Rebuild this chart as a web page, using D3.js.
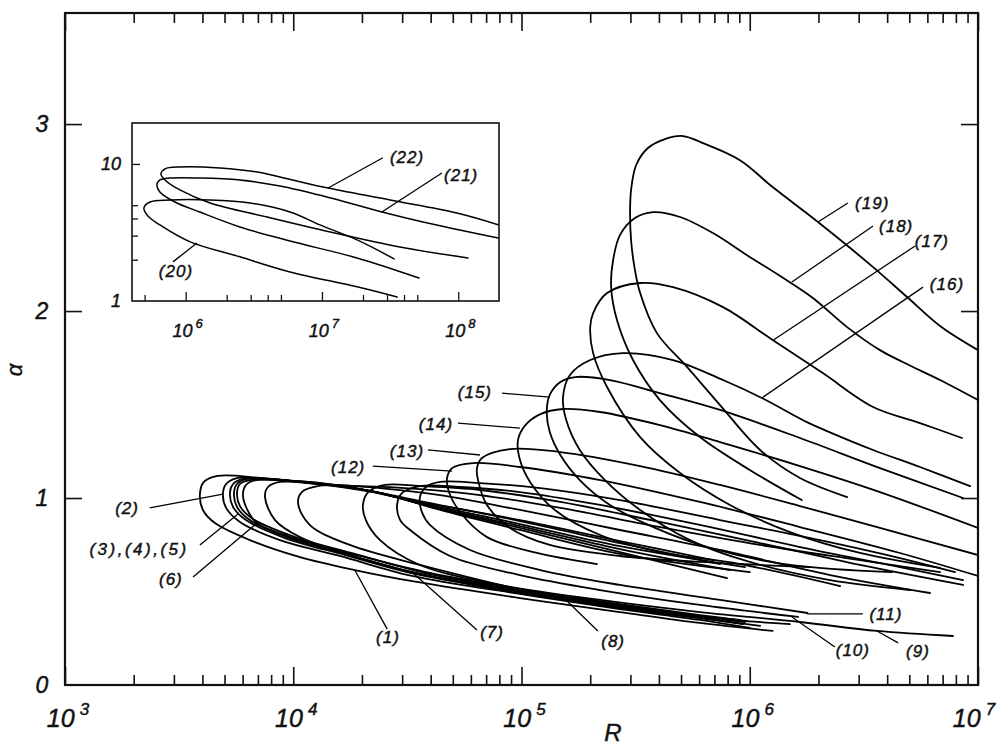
<!DOCTYPE html>
<html>
<head>
<meta charset="utf-8">
<script src="https://cdn.jsdelivr.net/npm/d3@7"></script>
<style>
  body { margin: 0; background: #fff; }
  svg { display: block; }
  text { font-family: "Liberation Sans", Arial, sans-serif; font-style: italic; fill: #111;
         stroke: #111; stroke-width: 0.45px; }
</style>
</head>
<body>
<svg id="chart" width="1001" height="747"></svg>
<script>
// Neutral curves: each is [R, alpha] traced from the upper-branch end, round the nose, to the lower-branch end.
const curve1 = [[6.90e5,0.668],[2.70e5,0.770],[9.85e4,0.882],[3.59e4,0.979],[1.96e4,1.043],[1.07e4,1.086],[7.15e3,1.107],[4.68e3,1.118],[4.06e3,1.086],[3.90e3,1.021],[4.02e3,0.936],[4.54e3,0.866],[6.46e3,0.775],[1.07e4,0.684],[1.86e4,0.615],[3.48e4,0.551],[9.85e4,0.465],[2.70e5,0.390],[6.05e5,0.332],[1.26e6,0.289]];
const curve2 = [[7.41e5,0.647],[2.70e5,0.759],[9.85e4,0.877],[3.59e4,0.984],[1.96e4,1.048],[1.18e4,1.080],[7.91e3,1.102],[5.67e3,1.107],[5.08e3,1.075],[4.92e3,1.021],[5.08e3,0.947],[5.84e3,0.872],[8.75e3,0.775],[1.60e4,0.690],[3.31e4,0.583],[9.85e4,0.487],[2.70e5,0.406],[6.05e5,0.348],[1.00e6,0.305]];
const curve3 = [[9.53e5,0.631],[2.70e5,0.743],[9.85e4,0.861],[3.97e4,0.963],[2.17e4,1.037],[1.31e4,1.075],[8.75e3,1.096],[6.02e3,1.102],[5.45e3,1.075],[5.28e3,1.027],[5.45e3,0.952],[6.21e3,0.882],[9.20e3,0.786],[1.69e4,0.695],[3.42e4,0.594],[9.85e4,0.497],[2.70e5,0.417],[6.05e5,0.358],[9.34e5,0.326]];
const curve4 = [[8.19e5,0.615],[2.70e5,0.727],[9.85e4,0.850],[3.97e4,0.957],[2.28e4,1.032],[1.38e4,1.075],[9.20e3,1.096],[6.27e3,1.102],[5.67e3,1.075],[5.50e3,1.027],[5.67e3,0.952],[6.46e3,0.882],[9.68e3,0.786],[1.77e4,0.695],[3.59e4,0.594],[9.85e4,0.503],[2.70e5,0.422],[6.05e5,0.364],[9.53e5,0.337]];
const curve5 = [[7.95e5,0.572],[2.70e5,0.711],[9.85e4,0.840],[4.18e4,0.947],[2.40e4,1.027],[1.45e4,1.070],[9.68e3,1.091],[6.46e3,1.096],[5.84e3,1.075],[5.67e3,1.027],[5.84e3,0.957],[6.66e3,0.888],[1.02e4,0.791],[1.86e4,0.701],[3.78e4,0.599],[9.85e4,0.508],[2.70e5,0.428],[6.05e5,0.369],[9.06e5,0.348]];
const curve6 = [[1.00e6,0.604],[2.70e5,0.701],[9.85e4,0.829],[4.40e4,0.936],[2.52e4,1.021],[1.52e4,1.070],[1.02e4,1.091],[6.87e3,1.096],[6.21e3,1.070],[6.02e3,1.021],[6.21e3,0.952],[6.94e3,0.866],[1.07e4,0.775],[1.96e4,0.690],[3.97e4,0.599],[9.85e4,0.513],[2.70e5,0.433],[6.05e5,0.374],[9.73e5,0.342]];
const curve7 = [[6.16e6,0.492],[2.25e6,0.588],[7.41e5,0.722],[2.70e5,0.829],[9.85e4,0.936],[4.40e4,1.016],[2.40e4,1.053],[1.31e4,1.075],[8.75e3,1.086],[7.75e3,1.059],[7.52e3,1.005],[8.32e3,0.882],[1.07e4,0.791],[1.77e4,0.695],[3.31e4,0.604],[8.05e4,0.508],[2.21e5,0.428],[6.05e5,0.358],[1.11e6,0.316]];
const curve8 = [[6.82e6,0.604],[3.04e6,0.668],[1.11e6,0.749],[4.04e5,0.845],[1.48e5,0.947],[6.58e4,1.016],[3.59e4,1.048],[1.96e4,1.064],[1.28e4,1.064],[1.09e4,1.032],[1.05e4,0.973],[1.18e4,0.856],[1.77e4,0.749],[3.59e4,0.642],[8.05e4,0.535],[1.55e5,0.455],[3.66e5,0.390],[8.19e5,0.348],[1.50e6,0.326]];
const curve9 = [[8.60e6,0.535],[3.04e6,0.642],[1.11e6,0.759],[4.04e5,0.872],[1.48e5,0.979],[6.58e4,1.043],[3.59e4,1.064],[2.52e4,1.070],[2.13e4,1.032],[2.02e4,0.963],[2.08e4,0.882],[2.40e4,0.775],[3.59e4,0.642],[8.05e4,0.535],[2.21e5,0.455],[6.05e5,0.390],[1.66e6,0.337],[3.61e6,0.289],[7.77e6,0.262]];
const curve10 = [[8.60e6,0.561],[4.55e6,0.631],[1.66e6,0.738],[6.05e5,0.856],[2.21e5,0.963],[9.85e4,1.032],[5.38e4,1.059],[3.59e4,1.064],[3.00e4,1.027],[2.85e4,0.963],[2.94e4,0.882],[3.25e4,0.829],[4.86e4,0.690],[9.85e4,0.588],[2.21e5,0.508],[6.05e5,0.428],[1.63e6,0.364]];
const curve11 = [[7.93e6,0.604],[4.55e6,0.679],[2.03e6,0.775],[7.41e5,0.882],[2.70e5,0.989],[1.21e5,1.053],[6.58e4,1.080],[4.40e4,1.086],[3.82e4,1.059],[3.59e4,1.005],[3.66e4,0.925],[3.97e4,0.856],[5.95e4,0.722],[1.21e5,0.615],[2.70e5,0.535],[7.41e5,0.455],[1.79e6,0.385]];
const curve12 = [[1e7,0.583],[4.55e6,0.706],[1.66e6,0.845],[6.05e5,0.979],[2.21e5,1.096],[9.85e4,1.166],[6.13e4,1.187],[4.96e4,1.160],[4.72e4,1.107],[4.81e4,1.032],[5.38e4,0.925],[7.06e4,0.791],[1.17e5,0.706],[2.14e5,0.647]];
const curve13 = [[1e7,0.695],[3.72e6,0.840],[1.66e6,0.957],[7.41e5,1.070],[3.31e5,1.171],[1.48e5,1.246],[8.90e4,1.262],[6.71e4,1.214],[6.38e4,1.160],[6.45e4,1.096],[7.06e4,0.963],[8.90e4,0.840],[1.33e5,0.749],[2.70e5,0.690],[6.05e5,0.658],[1.84e6,0.631]];
const curve14 = [[1e7,0.840],[3.72e6,1.032],[1.66e6,1.171],[7.41e5,1.299],[4.04e5,1.390],[2.21e5,1.460],[1.52e5,1.476],[1.21e5,1.449],[1.04e5,1.390],[9.65e4,1.310],[9.85e4,1.203],[1.09e5,1.086],[1.40e5,0.936],[2.21e5,0.802],[4.04e5,0.711],[9.06e5,0.647],[2.49e6,0.529]];
const curve15 = [[8.60e6,1.000],[3.72e6,1.160],[1.66e6,1.321],[7.41e5,1.471],[4.04e5,1.561],[2.44e5,1.631],[1.72e5,1.647],[1.48e5,1.620],[1.33e5,1.551],[1.29e5,1.460],[1.33e5,1.353],[1.48e5,1.230],[1.80e5,1.096],[2.44e5,0.963],[3.85e5,0.840],[6.70e5,0.733],[1.50e6,0.642],[4.20e6,0.604]];
const curve16 = [[9.23e6,1.064],[5.57e6,1.166],[3.47e6,1.257],[2.18e6,1.358],[1.78e6,1.406],[1.13e6,1.535],[7.64e5,1.631],[4.61e5,1.738],[2.78e5,1.775],[2.00e5,1.738],[1.63e5,1.658],[1.52e5,1.540],[1.57e5,1.417],[1.80e5,1.257],[2.32e5,1.096],[3.31e5,0.936],[5.47e5,0.775],[1.00e6,0.658],[2.25e6,0.561],[5.04e6,0.508]];
const curve17 = [[8.51e6,1.321],[5.57e6,1.401],[3.47e6,1.487],[2.09e6,1.668],[1.26e6,1.845],[7.64e5,2.021],[4.61e5,2.128],[3.31e5,2.150],[2.37e5,2.096],[2.06e5,1.989],[2.00e5,1.914],[2.06e5,1.775],[2.37e5,1.594],[3.31e5,1.326],[4.95e5,1.134],[8.19e5,0.963],[1.50e6,0.818],[3.04e6,0.706],[6.82e6,0.626]];
const curve18 = [[1e7,1.524],[6.82e6,1.631],[5.19e6,1.701],[3.72e6,1.791],[2.67e6,1.914],[1.89e6,2.070],[1.36e6,2.187],[9.73e5,2.299],[6.90e5,2.417],[4.95e5,2.503],[3.77e5,2.529],[3.14e5,2.497],[2.70e5,2.406],[2.52e5,2.273],[2.47e5,2.128],[2.62e5,1.952],[3.08e5,1.738],[4.04e5,1.524],[6.05e5,1.326],[1.00e6,1.150],[1.69e6,0.989]];
const curve19 = [[1e7,1.791],[6.82e6,1.920],[4.89e6,2.075],[3.47e6,2.235],[1.99e6,2.476],[1.26e6,2.663],[9.06e5,2.807],[6.24e5,2.898],[5.10e5,2.936],[4.25e5,2.920],[3.58e5,2.872],[3.18e5,2.781],[3.02e5,2.647],[2.99e5,2.520],[3.02e5,2.380],[3.12e5,2.240],[3.31e5,2.096],[3.92e5,1.882],[5.31e5,1.701],[7.41e5,1.497],[1.11e6,1.257],[1.66e6,1.107],[2.67e6,1.005]];

// Inset (log-log) curves
const curve20 = [[3.38e7,2.03],[1.81e7,2.79],[9.67e6,3.59],[5.83e6,4.46],[2.97e6,5.19],[1.51e6,5.46],[7.67e5,5.46],[5.47e5,5.28],[4.94e5,4.77],[5.29e5,4.17],[6.47e5,3.59],[1.08e6,2.70],[2.50e6,2.10],[5.83e6,1.63],[1.81e7,1.27],[3.56e7,1.07]];
const curve21 = [[1.96e8,2.88],[5.51e7,3.77],[2.76e7,4.46],[1.02e7,5.84],[4.92e6,6.91],[2.50e6,7.64],[1.27e6,7.90],[7.67e5,7.90],[6.47e5,7.64],[6.15e5,7.03],[6.47e5,6.25],[8.34e5,5.28],[1.27e6,4.46],[2.50e6,3.47],[5.83e6,2.74],[1.81e7,2.06],[5.15e7,1.47]];
const curve22 = [[1.99e8,3.59],[9.77e7,4.39],[3.16e7,5.46],[1.02e7,6.79],[4.92e6,8.04],[3.34e6,8.74],[1.79e6,9.35],[9.08e5,9.51],[7.05e5,9.20],[6.59e5,8.45],[7.05e5,7.64],[9.08e5,6.46],[1.51e6,5.19],[3.95e6,4.10],[1.15e7,3.19],[3.73e7,2.48],[1.18e8,2.06]];

const mainCurves = [curve1, curve2, curve3, curve4, curve5, curve6, curve7, curve8, curve9, curve10,
                    curve11, curve12, curve13, curve14, curve15, curve16, curve17, curve18, curve19];
const insetCurves = [curve20, curve21, curve22];

// Axis ticks and labels
const xTickExponents = [3, 4, 5, 6, 7];
const yTickValues = [0, 1, 2, 3];
const insetXExponents = [6, 7, 8];
const insetXMinor = [5e5, 2e6, 3e6, 4e6, 5e6, 2e7, 3e7, 4e7, 5e7];
const insetYMinor = [2, 3, 4, 5];
const insetYLabels = [1, 10];

// Curve labels: text position, leader start, leader end (on the curve), in [R, alpha]
const mainLabels = [
  { text: "(1)",  at: [2.60e4, 0.257], from: [2.58e4, 0.299], to: [1.86e4, 0.615] },
  { text: "(2)",  at: [1.87e3, 0.947], from: [2.35e3, 0.947], to: [4.92e3, 1.021] },
  { text: "(3),(4),(5)", at: [2.11e3, 0.727], from: [3.90e3, 0.749], to: [5.73e3, 0.914] },
  { text: "(6)",  at: [2.91e3, 0.567], from: [3.64e3, 0.578], to: [6.93e3, 0.866] },
  { text: "(7)",  at: [7.43e4, 0.283], from: [6.38e4, 0.294], to: [3.31e4, 0.604] },
  { text: "(8)",  at: [2.52e5, 0.235], from: [2.16e5, 0.289], to: [1.55e5, 0.460] },
  { text: "(9)",  at: [5.46e6, 0.182], from: [4.47e6, 0.225], to: [3.61e6, 0.289] },
  { text: "(10)", at: [2.83e6, 0.187], from: [2.36e6, 0.203], to: [1.53e6, 0.364] },
  { text: "(11)", at: [3.95e6, 0.380], from: [3.13e6, 0.380], to: [1.78e6, 0.380] },
  { text: "(12)", at: [1.74e4, 1.166], from: [2.23e4, 1.171], to: [4.96e4, 1.144] },
  { text: "(13)", at: [3.15e4, 1.251], from: [3.89e4, 1.257], to: [6.58e4, 1.230] },
  { text: "(14)", at: [4.22e4, 1.396], from: [5.27e4, 1.401], to: [9.84e4, 1.374] },
  { text: "(15)", at: [6.25e4, 1.567], from: [8.22e4, 1.561], to: [1.33e5, 1.540] },
  { text: "(16)", at: [7.31e6, 2.144], from: [5.74e6, 2.128], to: [1.13e6, 1.535] },
  { text: "(17)", at: [6.28e6, 2.374], from: [5.30e6, 2.348], to: [1.27e6, 1.845] },
  { text: "(18)", at: [4.38e6, 2.455], from: [3.47e6, 2.455], to: [1.53e6, 2.155] },
  { text: "(19)", at: [3.44e6, 2.578], from: [2.69e6, 2.578], to: [1.99e6, 2.476] }
];
const insetLabels = [
  { text: "(20)", at: [8.49e5, 1.66], from: [8.07e5, 1.93], to: [1.21e6, 2.65] },
  { text: "(21)", at: [1.05e8, 8.31], from: [7.59e7, 8.60], to: [2.75e7, 4.46] },
  { text: "(22)", at: [4.21e7, 11.2], from: [2.80e7, 11.1], to: [1.11e7, 6.68] }
];

// ---- layout ----
const svg = d3.select("#chart");
const box = { left: 65, right: 978, top: 13, bottom: 685 };
const ibox = { left: 132, right: 499, top: 123, bottom: 301 };
const ink = "#111";

const x = d3.scaleLog().domain([1e3, 1e7]).range([box.left, box.right]);
const y = d3.scaleLinear().domain([0, 3.594]).range([box.bottom, box.top]);
const xi = d3.scaleLog().domain([4.04e5, 1.99e8]).range([ibox.left, ibox.right]);
const yi = d3.scaleLog().domain([1, 19.9]).range([ibox.bottom, ibox.top]);

const defs = svg.append("defs");
defs.append("clipPath").attr("id", "clipMain").append("rect")
  .attr("x", box.left).attr("y", box.top)
  .attr("width", box.right - box.left).attr("height", box.bottom - box.top);
defs.append("clipPath").attr("id", "clipInset").append("rect")
  .attr("x", ibox.left).attr("y", ibox.top)
  .attr("width", ibox.right - ibox.left).attr("height", ibox.bottom - ibox.top);

// ---- main curves ----
const line = d3.line().x(d => x(d[0])).y(d => y(d[1])).curve(d3.curveCatmullRom.alpha(0.5));
svg.append("g").attr("clip-path", "url(#clipMain)")
  .selectAll("path").data(mainCurves).join("path")
  .attr("d", line).attr("fill", "none").attr("stroke", "#000")
  .attr("stroke-width", 1.8).attr("stroke-linejoin", "round").attr("stroke-linecap", "round");

// ---- main axes ----
const allR = x.ticks();
const isDecade = v => Math.abs(Math.log10(v) - Math.round(Math.log10(v))) < 1e-9;
const majorR = allR.filter(isDecade);
const minorR = allR.filter(v => !isDecade(v));

function styleTicks(g) {
  g.select(".domain").remove();
  g.selectAll(".tick line").attr("stroke", ink).attr("stroke-width", 1.6);
  g.selectAll(".tick text").remove();
}
const axes = svg.append("g");
axes.append("g").attr("transform", `translate(0,${box.bottom})`)
  .call(d3.axisBottom(x).tickValues(minorR).tickSizeInner(-10).tickSizeOuter(0)).call(styleTicks);
axes.append("g").attr("transform", `translate(0,${box.bottom})`)
  .call(d3.axisBottom(x).tickValues(majorR).tickSizeInner(-18).tickSizeOuter(0)).call(styleTicks);
axes.append("g").attr("transform", `translate(0,${box.top})`)
  .call(d3.axisTop(x).tickValues(minorR).tickSizeInner(-10).tickSizeOuter(0)).call(styleTicks);
axes.append("g").attr("transform", `translate(0,${box.top})`)
  .call(d3.axisTop(x).tickValues(majorR).tickSizeInner(-18).tickSizeOuter(0)).call(styleTicks);
axes.append("g").attr("transform", `translate(${box.left},0)`)
  .call(d3.axisLeft(y).tickValues(yTickValues.filter(v => v > 0)).tickSizeInner(-17).tickSizeOuter(0)).call(styleTicks);
axes.append("g").attr("transform", `translate(${box.right},0)`)
  .call(d3.axisRight(y).tickValues(yTickValues.filter(v => v > 0)).tickSizeInner(-17).tickSizeOuter(0)).call(styleTicks);

svg.append("rect").attr("x", box.left).attr("y", box.top)
  .attr("width", box.right - box.left).attr("height", box.bottom - box.top)
  .attr("fill", "none").attr("stroke", ink).attr("stroke-width", 2.2);

// x tick labels: 10^n (the last one is pulled in so it stays on the page)
const xl = svg.append("g");
xTickExponents.forEach((e, i) => {
  const shift = i === xTickExponents.length - 1 ? -4 : 3;
  const t = xl.append("text").attr("x", x(Math.pow(10, e)) + shift).attr("y", 727)
    .attr("text-anchor", "middle").style("font-size", "25px");
  t.append("tspan").text("10");
  t.append("tspan").attr("dx", 5).attr("dy", -12).style("font-size", "17px").text(e);
});
// y tick labels
svg.append("g").selectAll("text").data(yTickValues).join("text")
  .attr("x", 42).attr("y", d => y(d) + 8).attr("text-anchor", "middle")
  .style("font-size", "23px").text(d => d);

// axis titles
svg.append("text").attr("x", 613).attr("y", 741).attr("text-anchor", "middle")
  .style("font-size", "24px").text("R");
svg.append("text").attr("transform", "translate(22,370) rotate(-90)")
  .attr("text-anchor", "middle").style("font-size", "22px").text("α");

// ---- curve labels ----
function drawLabels(g, labels, sx, sy) {
  g.selectAll("line").data(labels).join("line")
    .attr("x1", d => sx(d.from[0])).attr("y1", d => sy(d.from[1]))
    .attr("x2", d => sx(d.to[0])).attr("y2", d => sy(d.to[1]))
    .attr("stroke", "#000").attr("stroke-width", 1.3);
  g.selectAll("text").data(labels).join("text")
    .attr("x", d => sx(d.at[0])).attr("y", d => sy(d.at[1])).attr("dy", "0.35em")
    .attr("text-anchor", "middle").style("font-size", "17px")
    .style("letter-spacing", d => d.text.length > 5 ? "2.5px" : "1px")
    .text(d => d.text);
}
drawLabels(svg.append("g"), mainLabels, x, y);

// ---- inset ----
const inset = svg.append("g");
inset.append("rect").attr("x", ibox.left).attr("y", ibox.top)
  .attr("width", ibox.right - ibox.left).attr("height", ibox.bottom - ibox.top)
  .attr("fill", "#fff");
const iline = d3.line().x(d => xi(d[0])).y(d => yi(d[1])).curve(d3.curveCatmullRom.alpha(0.5));
inset.append("g").attr("clip-path", "url(#clipInset)")
  .selectAll("path").data(insetCurves).join("path")
  .attr("d", iline).attr("fill", "none").attr("stroke", "#000")
  .attr("stroke-width", 1.5).attr("stroke-linecap", "round");

const insetMajor = insetXExponents.map(e => Math.pow(10, e));
inset.append("g").attr("transform", `translate(0,${ibox.bottom})`)
  .call(d3.axisBottom(xi).tickValues(insetXMinor).tickSizeInner(-6).tickSizeOuter(0)).call(styleTicks);
inset.append("g").attr("transform", `translate(0,${ibox.bottom})`)
  .call(d3.axisBottom(xi).tickValues(insetMajor).tickSizeInner(-9).tickSizeOuter(0)).call(styleTicks);
inset.append("g").attr("transform", `translate(${ibox.left},0)`)
  .call(d3.axisLeft(yi).tickValues(insetYMinor).tickSizeInner(-6).tickSizeOuter(0)).call(styleTicks);
inset.append("g").attr("transform", `translate(${ibox.left},0)`)
  .call(d3.axisLeft(yi).tickValues([10]).tickSizeInner(-8).tickSizeOuter(0)).call(styleTicks);
inset.selectAll(".tick line").attr("stroke-width", 1.3);

inset.append("rect").attr("x", ibox.left).attr("y", ibox.top)
  .attr("width", ibox.right - ibox.left).attr("height", ibox.bottom - ibox.top)
  .attr("fill", "none").attr("stroke", ink).attr("stroke-width", 1.6);

insetXExponents.forEach(e => {
  const t = inset.append("text").attr("x", xi(Math.pow(10, e)) + 2).attr("y", 337)
    .attr("text-anchor", "middle").style("font-size", "18px");
  t.append("tspan").text("10");
  t.append("tspan").attr("dx", 3).attr("dy", -9).style("font-size", "13px").text(e);
});
inset.append("g").selectAll("text").data(insetYLabels).join("text")
  .attr("x", 121).attr("y", d => yi(d) + 6).attr("text-anchor", "end")
  .style("font-size", "18px").text(d => d);

drawLabels(inset.append("g"), insetLabels, xi, yi);
</script>
</body>
</html>
